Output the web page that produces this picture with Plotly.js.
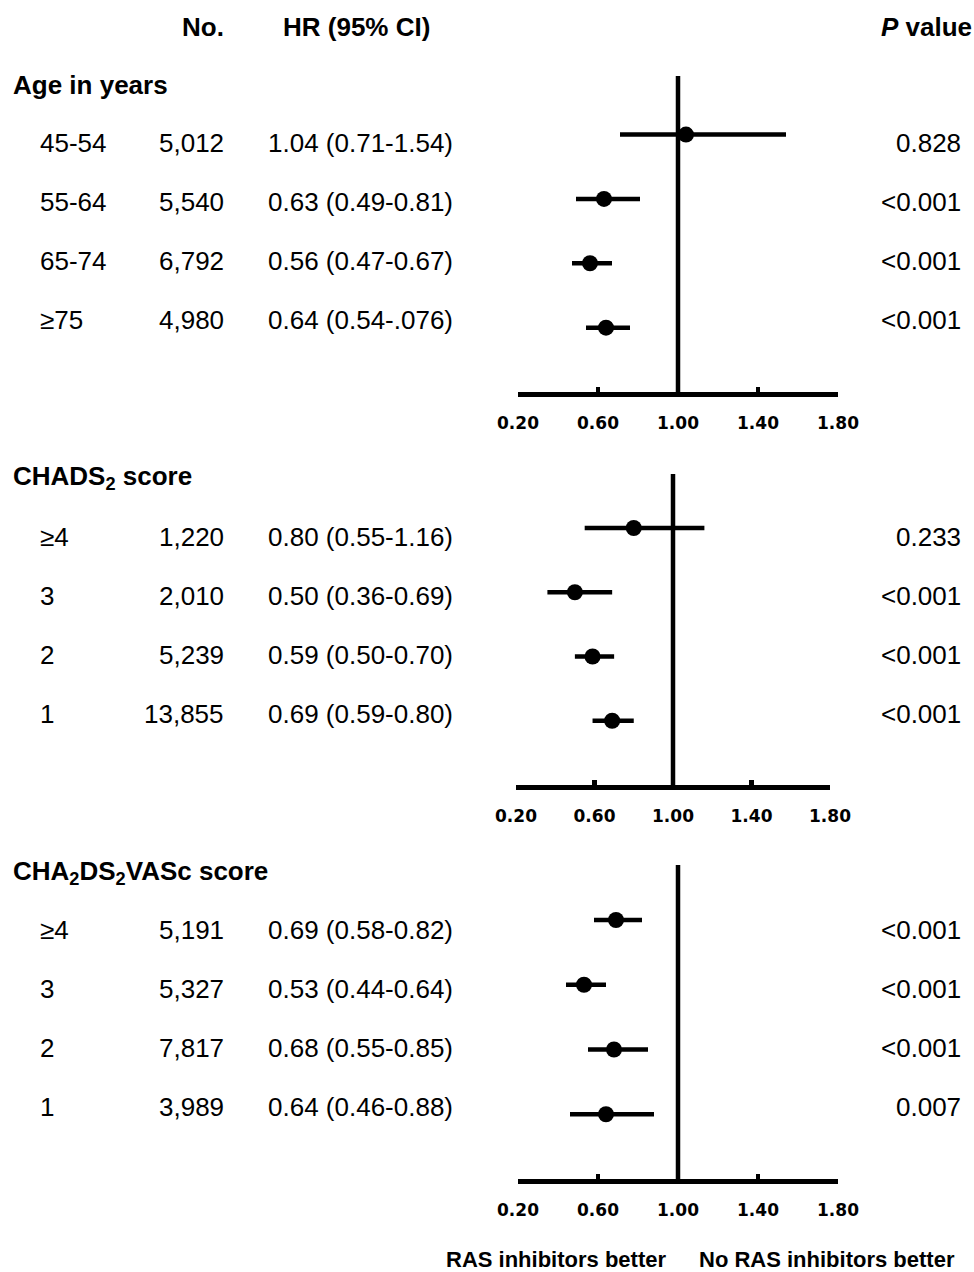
<!DOCTYPE html>
<html>
<head>
<meta charset="utf-8">
<script src="https://cdn.plot.ly/plotly-3.0.1.min.js"></script>
<style>html,body{margin:0;padding:0;background:#fff;}#chart{width:974px;height:1272px;}</style>
</head>
<body>
<div id="chart"></div>
<script>
// ---------- data ----------
const sectionTitles = ['Age in years', 'CHADS<sub>2</sub> score', 'CHA<sub>2</sub>DS<sub>2</sub>VASc score'];

const ageLabels = ['45-54', '55-64', '65-74', '≥75'];
const ageN      = ['5,012', '5,540', '6,792', '4,980'];
const ageHR     = [1.04, 0.63, 0.56, 0.64];
const ageLo     = [0.71, 0.49, 0.47, 0.54];
const ageHi     = [1.54, 0.81, 0.67, 0.76];
const ageHRText = ['1.04 (0.71-1.54)', '0.63 (0.49-0.81)', '0.56 (0.47-0.67)', '0.64 (0.54-.076)'];
const ageP      = ['0.828', '<0.001', '<0.001', '<0.001'];

const chadsLabels = ['≥4', '3', '2', '1'];
const chadsN      = ['1,220', '2,010', '5,239', '13,855'];
const chadsHR     = [0.80, 0.50, 0.59, 0.69];
const chadsLo     = [0.55, 0.36, 0.50, 0.59];
const chadsHi     = [1.16, 0.69, 0.70, 0.80];
const chadsHRText = ['0.80 (0.55-1.16)', '0.50 (0.36-0.69)', '0.59 (0.50-0.70)', '0.69 (0.59-0.80)'];
const chadsP      = ['0.233', '<0.001', '<0.001', '<0.001'];

const vascLabels = ['≥4', '3', '2', '1'];
const vascN      = ['5,191', '5,327', '7,817', '3,989'];
const vascHR     = [0.69, 0.53, 0.68, 0.64];
const vascLo     = [0.58, 0.44, 0.55, 0.46];
const vascHi     = [0.82, 0.64, 0.85, 0.88];
const vascHRText = ['0.69 (0.58-0.82)', '0.53 (0.44-0.64)', '0.68 (0.55-0.85)', '0.64 (0.46-0.88)'];
const vascP      = ['<0.001', '<0.001', '<0.001', '0.007'];

const tickVals = [0.2, 0.6, 1.0, 1.4, 1.8];
const headers = {no: 'No.', hr: 'HR (95% CI)', p: '<i>P</i> value'};
const footLeft = 'RAS inhibitors better';
const footRight = 'No RAS inhibitors better';

// ---------- layout geometry (pixels) ----------
const W = 974, H = 1272;
const panels = [
  {labels: ageLabels, n: ageN, hr: ageHR, lo: ageLo, hi: ageHi, hrText: ageHRText, p: ageP,
   xL: 518, xR: 838, yBot: 392, yTop: 76, yMax: 4.91, titleY: 85, rowY0: 143},
  {labels: chadsLabels, n: chadsN, hr: chadsHR, lo: chadsLo, hi: chadsHi, hrText: chadsHRText, p: chadsP,
   xL: 516, xR: 830, yBot: 785, yTop: 474, yMax: 4.84, titleY: 478, rowY0: 537},
  {labels: vascLabels, n: vascN, hr: vascHR, lo: vascLo, hi: vascHi, hrText: vascHRText, p: vascP,
   xL: 518, xR: 838, yBot: 1179, yTop: 865, yMax: 4.85, titleY: 872, rowY0: 930}
];
const rowStep = 59;
const px = x => x / W;
const py = y => 1 - y / H;

const FONT = 'Liberation Sans, Arial, sans-serif';
const traces = [];
const shapes = [];
const annotations = [];
const layout = {
  width: W, height: H,
  margin: {l: 0, r: 0, t: 0, b: 0, pad: 0},
  paper_bgcolor: '#fff', plot_bgcolor: 'rgba(0,0,0,0)',
  showlegend: false,
  font: {family: FONT, color: '#000'}
};

function txt(text, x, y, anchor, size, bold, pad) {
  annotations.push({
    text: bold ? '<b>' + text + '</b>' : text,
    xref: 'paper', yref: 'paper', x: px(x), y: py(y),
    xanchor: anchor, yanchor: 'middle', showarrow: false,
    borderpad: pad === undefined ? 1 : pad,
    font: {family: FONT, size: size, color: '#000'}
  });
}

// headers
txt(headers.no, 226, 27, 'right', 26, true);
txt(headers.hr, 281, 27, 'left', 26, true);
txt(headers.p, 974, 27, 'right', 26, true);

panels.forEach((pn, k) => {
  const ax = k === 0 ? '' : String(k + 1);
  const nRows = pn.hr.length;
  const yv = pn.hr.map((_, i) => nRows - i);
  traces.push({
    type: 'scatter', mode: 'markers',
    x: pn.hr, y: yv,
    xaxis: 'x' + ax, yaxis: 'y' + ax,
    marker: {color: '#000', size: 16, symbol: 'circle'},
    error_x: {type: 'data', symmetric: false,
      array: pn.hi.map((h, i) => h - pn.hr[i]),
      arrayminus: pn.lo.map((l, i) => pn.hr[i] - l),
      color: '#000', thickness: 4.5, width: 0},
    hoverinfo: 'skip'
  });
  layout['xaxis' + ax] = {
    domain: [px(pn.xL), px(pn.xR)], range: [0.2, 1.8],
    anchor: 'y' + ax,
    tickvals: tickVals, tickformat: '.2f',
    showline: true, linewidth: 4.5, linecolor: '#000',
    ticks: 'inside', ticklen: 5, tickwidth: 4.5, tickcolor: '#000',
    ticklabelstandoff: 12,
    tickfont: {family: 'DejaVu Sans, sans-serif', size: 17, color: '#000', weight: 'bold'},
    showgrid: false, zeroline: false, fixedrange: true
  };
  layout['yaxis' + ax] = {
    domain: [py(pn.yBot), py(pn.yTop)], range: [0, pn.yMax],
    anchor: 'x' + ax, visible: false, showgrid: false, zeroline: false, fixedrange: true
  };
  shapes.push({type: 'line', xref: 'x' + ax, yref: 'y' + ax + ' domain',
    x0: 1, x1: 1, y0: 0, y1: 1, line: {color: '#000', width: 4.5}, layer: 'below'});

  txt(sectionTitles[k], 11, pn.titleY, 'left', 26, true);
  pn.labels.forEach((lab, i) => {
    const y = pn.rowY0 + i * rowStep;
    txt(lab, 38, y, 'left', 26, false);
    txt(pn.n[i], 226, y, 'right', 26, false);
    txt(pn.hrText[i], 266, y, 'left', 26, false);
    txt(pn.p[i], 963, y, 'right', 26, false);
  });
});

txt(footLeft, 445, 1259, 'left', 22, true, 0);
txt(footRight, 698, 1259, 'left', 22, true, 0);

layout.shapes = shapes;
layout.annotations = annotations;
Plotly.newPlot('chart', traces, layout, {displayModeBar: false, staticPlot: true});
</script>
</body>
</html>
